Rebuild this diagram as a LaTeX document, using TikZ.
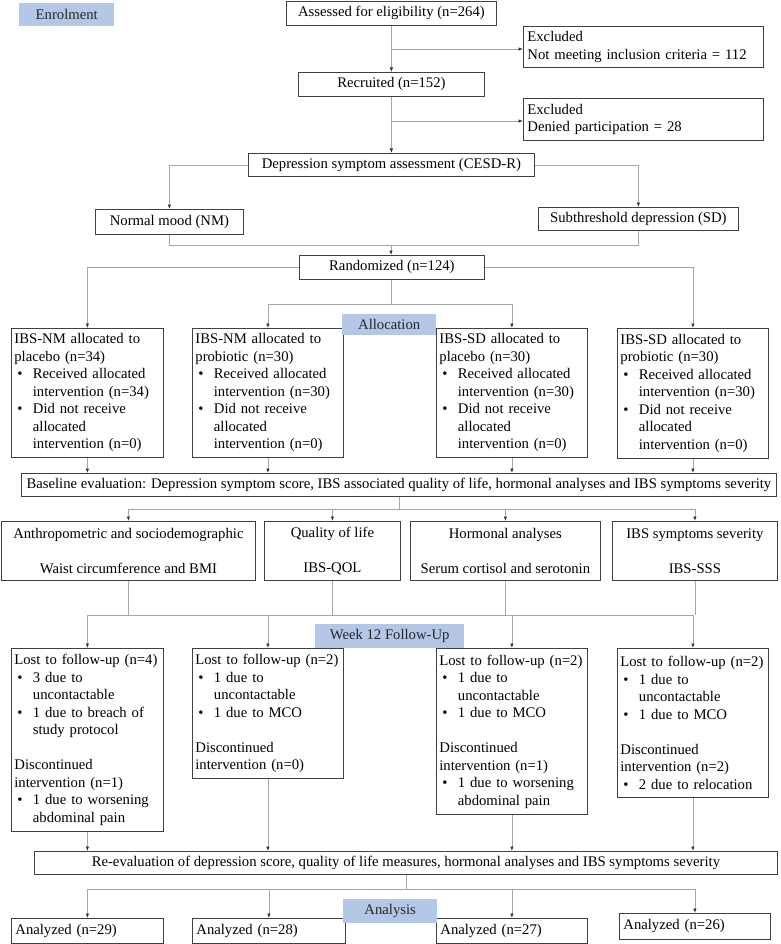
\documentclass[tikz,border=0pt]{standalone}
\usepackage{fontspec}
\setmainfont{Liberation Serif}
\usetikzlibrary{arrows.meta}
\definecolor{lblue}{HTML}{B4C7E7}
\definecolor{bord}{HTML}{404040}
\definecolor{conn}{HTML}{A6A6A6}
\newcommand{\bl}{\makebox[18.5pt][l]{\hspace{3pt}\textbullet}}
\newcommand{\ind}{\hspace*{18.5pt}}
\begin{document}
\begin{tikzpicture}[x=1pt,y=-1pt,
  font=\fontsize{14.7}{17.5}\selectfont,
  box/.style={draw=bord, line width=0.8pt, fill=white, inner sep=0pt, anchor=north west},
  cbox/.style={box, align=center},
  tbox/.style={box, align=left, inner xsep=4pt},
  pbox/.style={box, align=left, inner xsep=3pt},
  phase/.style={fill=lblue, inner sep=0pt, anchor=north west, text=black!85},
  ln/.style={draw=conn, line width=0.7pt},
  arr/.style={ln, -{Latex[length=4.5pt,width=3.5pt,color=black!80]}}]
\useasboundingbox (0,0) rectangle (780,944);

% enrolment
\node[cbox, minimum width=210pt, minimum height=24pt] (assess) at (286,1) {Assessed for eligibility (n=264)};
\node[tbox, text width=232pt, minimum height=41pt] (excl1) at (523,26) {Excluded\\Not meeting inclusion criteria = 112};
\node[cbox, minimum width=186pt, minimum height=24pt] (recr) at (298,72) {Recruited (n=152)};
\node[tbox, text width=232pt, minimum height=42pt] (excl2) at (523,98) {Excluded\\Denied participation = 28};
\node[cbox, minimum width=286pt, minimum height=23pt] (dep) at (248,153) {Depression symptom assessment (CESD-R)};
\node[cbox, minimum width=148pt, minimum height=25pt] (nm) at (95,209) {Normal mood (NM)};
\node[cbox, minimum width=200pt, minimum height=23pt] (sd) at (538,207) {Subthreshold depression (SD)};
\node[cbox, minimum width=185pt, minimum height=24pt] (rand) at (299,255) {Randomized (n=124)};

% allocation
\node[pbox, text width=146pt, minimum height=129pt] (b1) at (11,328) {IBS-NM allocated to\\placebo (n=34)\\\bl Received allocated\\\ind intervention~(n=34)\\\bl Did not receive\\\ind allocated\\\ind intervention (n=0)};
\node[pbox, text width=145pt, minimum height=129pt] (b2) at (192,328) {IBS-NM allocated to\\probiotic (n=30)\\\bl Received allocated\\\ind intervention~(n=30)\\\bl Did not receive\\\ind allocated\\\ind intervention (n=0)};
\node[pbox, text width=145pt, minimum height=129pt] (b3) at (436,328) {IBS-SD allocated to\\placebo (n=30)\\\bl Received allocated\\\ind intervention~(n=30)\\\bl Did not receive\\\ind allocated\\\ind intervention (n=0)};
\node[pbox, text width=145pt, minimum height=130pt] (b4) at (617,328) {IBS-SD allocated to\\probiotic (n=30)\\\bl Received allocated\\\ind intervention~(n=30)\\\bl Did not receive\\\ind allocated\\\ind intervention (n=0)};

\node[cbox, minimum width=755pt, minimum height=23pt] (base) at (21,473) {Baseline evaluation: Depression symptom score, IBS associated quality of life, hormonal analyses and IBS symptoms severity};

\node[cbox, minimum width=254pt, minimum height=59pt] (A) at (1,521) {Anthropometric and sociodemographic\\[17.5pt]Waist circumference and BMI};
\node[cbox, minimum width=136pt, minimum height=59pt] (B) at (264,521) {Quality of life\\[17.5pt]IBS-QOL};
\node[cbox, minimum width=190pt, minimum height=59pt] (C) at (410,521) {Hormonal analyses\\[17.5pt]Serum cortisol and serotonin};
\node[cbox, minimum width=165pt, minimum height=59pt] (D) at (612,521) {IBS symptoms severity\\[17.5pt]IBS-SSS};

% follow-up
\node[pbox, text width=146pt, minimum height=183pt] (q1) at (11,648) {\mbox{Lost to follow-up (n=4)}\\\bl 3 due to\\\ind uncontactable\\\bl 1 due to breach of\\\ind study protocol\\[17.5pt]Discontinued\\intervention (n=1)\\\bl \mbox{1 due to worsening}\\\ind abdominal pain};
\node[pbox, text width=145pt, minimum height=130pt] (q2) at (192,648) {\mbox{Lost to follow-up (n=2)}\\\bl 1 due to\\\ind uncontactable\\\bl 1 due to MCO\\[17.5pt]Discontinued\\intervention (n=0)};
\node[pbox, text width=145pt, minimum height=166pt] (q3) at (436,648) {\mbox{Lost to follow-up (n=2)}\\\bl 1 due to\\\ind uncontactable\\\bl 1 due to MCO\\[17.5pt]Discontinued\\intervention (n=1)\\\bl \mbox{1 due to worsening}\\\ind abdominal pain};
\node[pbox, text width=145pt, minimum height=149pt] (q4) at (617,648) {\mbox{Lost to follow-up (n=2)}\\\bl 1 due to\\\ind uncontactable\\\bl 1 due to MCO\\[17.5pt]Discontinued\\intervention (n=2)\\\bl 2 due to relocation};

\node[cbox, minimum width=743pt, minimum height=23pt] (reeval) at (34,851) {Re-evaluation of depression score, quality of life measures, hormonal analyses and IBS symptoms severity};

% analysis
\node[tbox, text width=144pt, minimum height=25pt] (an1) at (11,918) {Analyzed (n=29)};
\node[tbox, text width=145pt, minimum height=25pt] (an2) at (192,918) {Analyzed (n=28)};
\node[tbox, text width=143pt, minimum height=25pt] (an3) at (436,918) {Analyzed (n=27)};
\node[tbox, text width=143pt, minimum height=26pt] (an4) at (619,913) {Analyzed (n=26)};

% connectors
\draw[arr] (assess) -- (recr);
\coordinate (e1) at (391,49);
\draw[arr] (e1) -- (e1 -| excl1.west);
\draw[arr] (recr) -- (dep);
\coordinate (e2) at (391,121);
\draw[arr] (e2) -- (e2 -| excl2.west);
\draw[arr] (dep.west) -| (nm.north);
\draw[arr] (dep.east) -| (sd.north);
\coordinate (m1) at (391,245);
\draw[ln] (nm.south) |- (m1);
\draw[ln] (sd.south) |- (m1);
\draw[arr] (m1) -- (m1 |- rand.north);
\draw[arr] (rand.west) -| (b1.north);
\draw[arr] (rand.east) -| (b4.north);
\coordinate (m2) at (391,304);
\draw[ln] (m2 |- rand.south) -- (m2);
\draw[arr] (m2) -| (b2.north);
\draw[arr] (m2) -| (b3.north);
\foreach \b in {b1,b2,b3,b4} \draw[arr] (\b.south) -- (\b.south |- base.north);
\path (base.south) ++(0,13) coordinate (m3);
\draw[ln] (base.south) -- (m3);
\foreach \n in {A,B,C,D} \draw[arr] (m3) -| (\n.north);
\coordinate (m4) at (0,615);
\foreach \n in {A,B,C,D} \draw[ln] (\n.south) -- (\n.south |- m4);
\draw[ln] (q1.north |- m4) -- (q4.north |- m4);
\foreach \q in {q1,q2,q3,q4} \draw[arr] (\q.north |- m4) -- (\q.north);
\foreach \q in {q1,q2,q3,q4} \draw[arr] (\q.south) -- (\q.south |- reeval.north);
\path (reeval.south) ++(0,15) coordinate (m5);
\draw[ln] (reeval.south) -- (m5);
\foreach \n in {an1,an2,an3,an4} \draw[arr] (m5) -| (\n.north);

% phase labels
\node[phase, minimum width=95pt, minimum height=23pt] (enrol) at (19,3) {Enrolment};
\node[phase, minimum width=94pt, minimum height=21pt] (alloc) at (342,314) {Allocation};
\node[phase, minimum width=149pt, minimum height=24pt] (week) at (315,624) {Week 12 Follow-Up};
\node[phase, minimum width=94pt, minimum height=24pt] (anl) at (343,899) {Analysis};
\end{tikzpicture}
\end{document}
